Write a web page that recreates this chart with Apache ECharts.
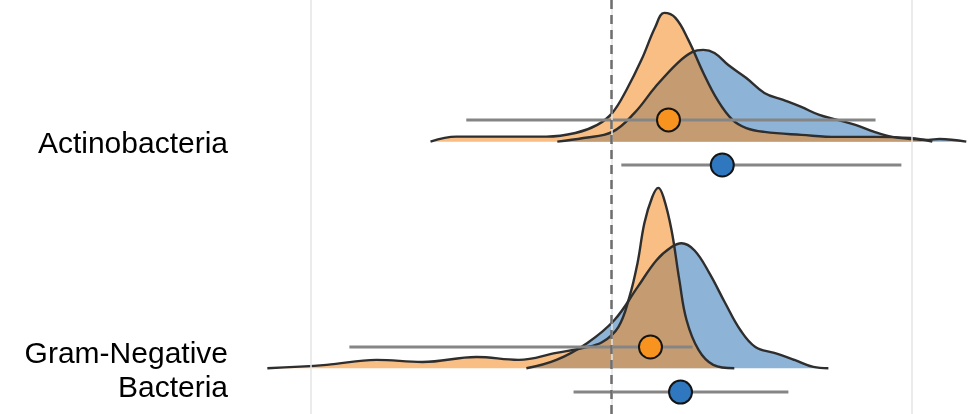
<!DOCTYPE html>
<html style="height: 100%">
<head>
    <meta charset="utf-8">
    <script src="https://cdn.jsdelivr.net/npm/echarts@6/dist/echarts.min.js"></script>
</head>
<body style="height: 100%; margin: 0; background: #fff">
    <div id="main" style="width: 972px; height: 414px;"></div>
    <script type="text/javascript">
    // ridge names, bottom ridge first (baseline 0, 1)
    var categories = ['Gram-Negative\nBacteria', 'Actinobacteria'];
    var xMin = -1.236, xMax = 1.2;

    // density curves: [x, height above ridge baseline]
    var actinoBlue = [[-0.18, 0], [-0.093, 0.016], [0.003, 0.043], [0.077, 0.127], [0.146, 0.241], [0.22, 0.347],
        [0.27, 0.396], [0.306, 0.405], [0.343, 0.391], [0.389, 0.338], [0.449, 0.281], [0.509, 0.215],
        [0.572, 0.184], [0.632, 0.153], [0.692, 0.118], [0.752, 0.096], [0.812, 0.074], [0.875, 0.043],
        [0.935, 0.021], [0.995, 0.012], [1.055, 0.008], [1.092, 0.012], [1.181, 0]];
    var actinoOrange = [[-0.602, 0], [-0.516, 0.022], [-0.373, 0.022], [-0.216, 0.022], [-0.12, 0.038], [-0.047, 0.074],
        [0.003, 0.127], [0.05, 0.228], [0.1, 0.361], [0.146, 0.506], [0.176, 0.568], [0.213, 0.546],
        [0.256, 0.449], [0.306, 0.303], [0.353, 0.184], [0.403, 0.096], [0.449, 0.06], [0.509, 0.043],
        [0.632, 0.03], [0.752, 0.021], [0.875, 0.021], [0.995, 0.016], [1.068, 0]];
    var gramBlue = [[-0.283, 0], [-0.183, 0.037], [-0.08, 0.112], [0.01, 0.213], [0.087, 0.358], [0.15, 0.477],
        [0.2, 0.535], [0.233, 0.552], [0.276, 0.521], [0.326, 0.42], [0.379, 0.287], [0.429, 0.169],
        [0.479, 0.094], [0.542, 0.068], [0.609, 0.037], [0.672, 0.006], [0.722, 0]];
    var gramOrange = [[-1.145, 0], [-0.948, 0.015], [-0.782, 0.037], [-0.629, 0.028], [-0.449, 0.05], [-0.309, 0.037],
        [-0.183, 0.068], [-0.093, 0.09], [-0.03, 0.116], [0.023, 0.182], [0.06, 0.315], [0.087, 0.465],
        [0.11, 0.642], [0.136, 0.756], [0.156, 0.796], [0.173, 0.756], [0.2, 0.61], [0.226, 0.39],
        [0.25, 0.213], [0.29, 0.081], [0.339, 0.015], [0.409, 0]];

    // estimates with intervals: [mean, low, high, ridge, offset]
    var orangePoints = [[0.13, -0.872, 0.27, 0, 0.094], [0.19, -0.483, 0.879, 1, 0.096]];
    var bluePoints = [[0.23, -0.126, 0.589, 0, -0.105], [0.369, 0.033, 0.965, 1, -0.103]];

    var gridLines = [-1, 0, 1];
    var refLine = 0;

    var myChart = echarts.init(document.getElementById('main'));

    function ridge(points, base) {
        return points.map(function(p) { return [p[0], base + p[1]] });
    }

    function density(name, points, base, fill) {
        return {
            name: name,
            type: 'line',
            data: ridge(points, base),
            smooth: 0.4,
            symbol: 'none',
            silent: true,
            lineStyle: { color: '#2e2e2e', width: 2.4, join: 'round' },
            areaStyle: { origin: base, color: fill, opacity: 1 },
            z: 2
        };
    }

    function bars(points) {
        return {
            type: 'custom',
            silent: true,
            z: 4,
            data: points.map(function(p) { return [p[1], p[2], p[3] + p[4]] }),
            renderItem: function(params, api) {
                var a = api.coord([api.value(0), api.value(2)]);
                var b = api.coord([api.value(1), api.value(2)]);
                return {
                    type: 'line',
                    shape: { x1: a[0], y1: a[1], x2: b[0], y2: b[1] },
                    style: { stroke: '#858585', lineWidth: 3 }
                };
            }
        };
    }

    function dots(points, color) {
        return {
            type: 'scatter',
            silent: true,
            z: 5,
            symbolSize: 23,
            data: points.map(function(p) { return [p[0], p[3] + p[4]] }),
            itemStyle: { color: color, borderColor: '#141414', borderWidth: 2, opacity: 1 }
        };
    }

    var option = {
        animation: false,
        grid: { left: 240, right: 0, top: 0, bottom: 0 },
        xAxis: {
            type: 'value', min: xMin, max: xMax,
            axisLine: { show: false }, axisTick: { show: false },
            axisLabel: { show: false }, splitLine: { show: false }
        },
        yAxis: {
            type: 'value', min: -0.2017, max: 1.625,
            axisLine: { show: false }, axisTick: { show: false },
            axisLabel: { show: false }, splitLine: { show: false }
        },
        series: [{
            // background grid lines
            type: 'line',
            data: [],
            silent: true,
            z: 1,
            markLine: {
                silent: true,
                symbol: 'none',
                label: { show: false },
                lineStyle: { color: '#e4e4e4', width: 1.5, type: 'solid' },
                data: gridLines.map(function(v) { return { xAxis: v } })
            }
        },
            density('Actino blue', actinoBlue, 1, '#8db3d7'),
            density('Actino orange', actinoOrange, 1, 'rgba(244,137,30,0.55)'),
            density('Gram blue', gramBlue, 0, '#8db3d7'),
            density('Gram orange', gramOrange, 0, 'rgba(244,137,30,0.55)'),
            bars(orangePoints),
            bars(bluePoints),
            dots(orangePoints, '#f7931e'),
            dots(bluePoints, '#2f78c0'),
        {
            // dashed reference line
            type: 'line',
            data: [],
            silent: true,
            z: 6,
            markLine: {
                silent: true,
                symbol: 'none',
                label: { show: false },
                lineStyle: { color: '#6e6e6e', width: 2.5, type: [9, 6] },
                data: [{ xAxis: refLine }]
            }
        }, {
            // ridge labels
            type: 'scatter',
            silent: true,
            symbolSize: 0,
            clip: false,
            itemStyle: { opacity: 1 },
            data: categories.map(function(c, i) { return [xMin, i] }),
            label: {
                show: true,
                position: 'left',
                distance: 12,
                offset: [0, 3],
                fontSize: 30,
                lineHeight: 34,
                fontFamily: 'Liberation Sans',
                color: '#000',
                opacity: 1,
                formatter: function(para) { return categories[para.dataIndex] }
            }
        }]
    };

    myChart.setOption(option);
    </script>
</body>
</html>
